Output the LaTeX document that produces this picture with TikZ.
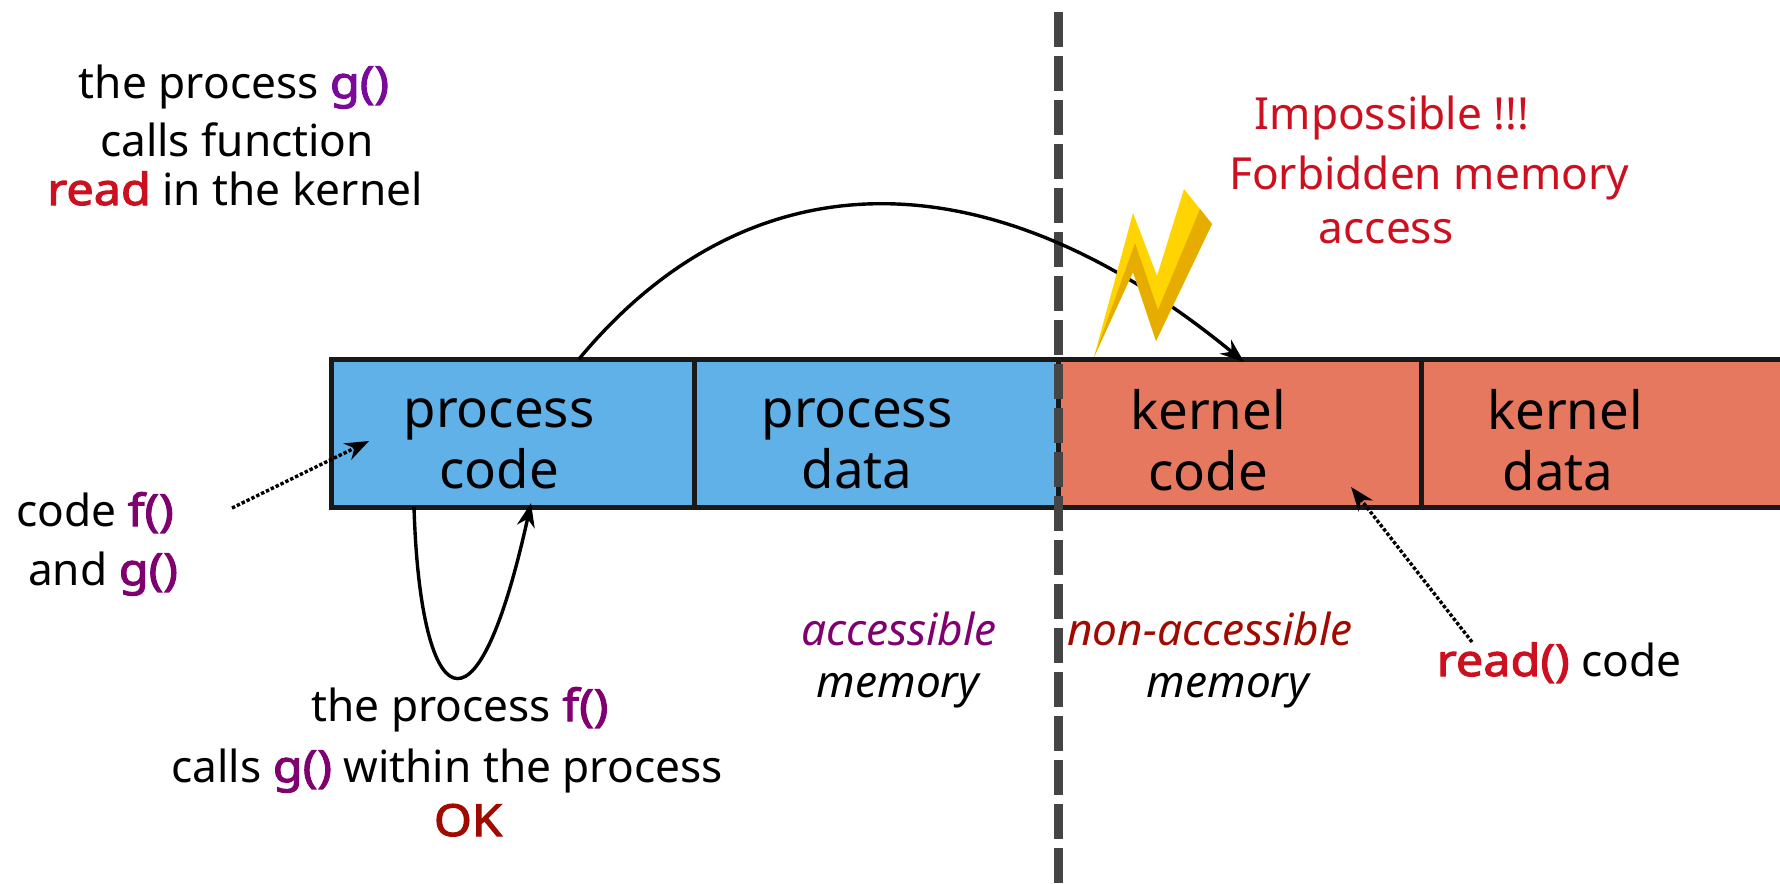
\documentclass[tikz,border=0pt]{standalone}
\usepackage{fontspec}
\setmainfont{Noto Sans}[BoldFont={Noto Sans},BoldFeatures={FakeBold=2.5,FakeStretch=1.1}]
\usepackage{xcolor}
\usetikzlibrary{arrows.meta,positioning,calc}
\definecolor{procblue}{HTML}{5FB1E8}
\definecolor{kernred}{HTML}{E67860}
\definecolor{gpurple}{HTML}{7A0A9A}
\definecolor{fpurple}{HTML}{800070}
\definecolor{readred}{HTML}{CC1020}
\definecolor{okred}{HTML}{A00A00}
\definecolor{boltlight}{HTML}{FFD400}
\definecolor{boltdark}{HTML}{E6AD00}

\begin{document}
\begin{tikzpicture}[
    x=0.5pt, y=-0.5pt,
    membox/.style={rectangle, draw=black!90, line width=2.5pt, minimum height=74pt, inner sep=0pt},
    memtext/.style={font=\fontsize{26.4}{30.5}\selectfont, align=center, text=black},
    lbl/.style={font=\fontsize{22.1}{25}\selectfont, anchor=base, inner sep=0pt},
    arrow/.style={-{Stealth[length=12pt,width=9pt]}, line width=1.7pt},
    dotarrow/.style={arrow, line width=1.7pt, densely dotted}
]
    \useasboundingbox (0,0) rectangle (1780,883);

    % Memory boxes
    \node[membox, fill=procblue, minimum width=181.5pt] (pcode) at (512.5,433) {};
    \node[membox, fill=procblue, minimum width=182pt] (pdata) at (876,433) {};
    \node[membox, fill=kernred, minimum width=181.5pt] (kcode) at (1239.5,433) {};
    \node[membox, fill=kernred, minimum width=200pt] (kdata) at (1621,433) {};

    \node[memtext] (pcodetxt) at (499,444) {process\\code};
    \node[memtext] (pdatatxt) at (857,444) {process\\data};
    \node[memtext] (kcodetxt) at (1208,440) {kernel\\code};
    \node[memtext] (kdatatxt) at (1565,440) {kernel\\data\hspace*{6.8pt}};

    % Boundary between the two memories
    \coordinate (bndtop) at (1058,12);
    \coordinate (bndbot) at (1058,883);
    \draw[line width=4.5pt, color=black!73, dash pattern=on 17.5pt off 4.5pt] (bndtop) -- (bndbot);

    % Labels top left
    \node[lbl] (gline) at (234,98) {the process \textbf{\textcolor{gpurple}{g()}}};
    \node[lbl] (fnline) at (237,156) {calls function};
    \node[lbl] (readline) at (235,205) {\textbf{\textcolor{readred}{read}} in the kernel};

    % Labels left
    \node[lbl] (codef) at (95,526) {code \textbf{\textcolor{fpurple}{f()}}};
    \node[lbl] (andg) at (103,585) {and \textbf{\textcolor{fpurple}{g()}}};

    % Labels bottom
    \node[lbl] (fline) at (460,721) {the process \textbf{\textcolor{fpurple}{f()}}};
    \node[lbl] (callsline) at (447,782) {calls \textbf{\textcolor{fpurple}{g()}} within the process};
    \node[lbl] (okline) at (468,836) {\textbf{\textcolor{okred}{OK}}};

    \node[lbl, text=fpurple] (acc) at (899,645) {\textit{accessible}};
    \node[lbl] (accmem) at (899,697) {\textit{memory}};
    \node[lbl, text=okred] (nonacc) at (1210,645) {\textit{non-accessible}};
    \node[lbl] (nonmem) at (1229,697) {\textit{memory}};
    \node[lbl] (readcode) at (1559,676) {\textbf{\textcolor{readred}{read()}} code};

    % Labels top right
    \node[lbl, text=readred] (imposs) at (1392,129) {Impossible !!!};
    \node[lbl, text=readred] (forbid) at (1429,189) {Forbidden memory};
    \node[lbl, text=readred] (access) at (1386,243) {access};

    % Arrows
    \coordinate (codetail) at (232,508);
    \coordinate (codehead) at (369,441);
    \coordinate (readtail) at (1472,642);
    \coordinate (readhead) at (1351,487);
    \draw[arrow] (579,359) .. controls (750,153) and (990,153) .. (1244,362);
    \draw[arrow] (414,507) .. controls (420,708) and (475,758) .. (531,503);
    \draw[dotarrow] (codetail) -- (codehead);
    \draw[dotarrow] (readtail) -- (readhead);

    % Bolt
    \fill[boltlight] (1094,357) -- (1133,213) -- (1157,276) -- (1184,189) -- (1212,224) -- (1156,341) -- (1133,272) -- cycle;
    \fill[boltdark] (1094,357) -- (1135,243) -- (1158,310) -- (1200,209) -- (1212,224) -- (1156,341) -- (1133,272) -- cycle;
\end{tikzpicture}
\end{document}
